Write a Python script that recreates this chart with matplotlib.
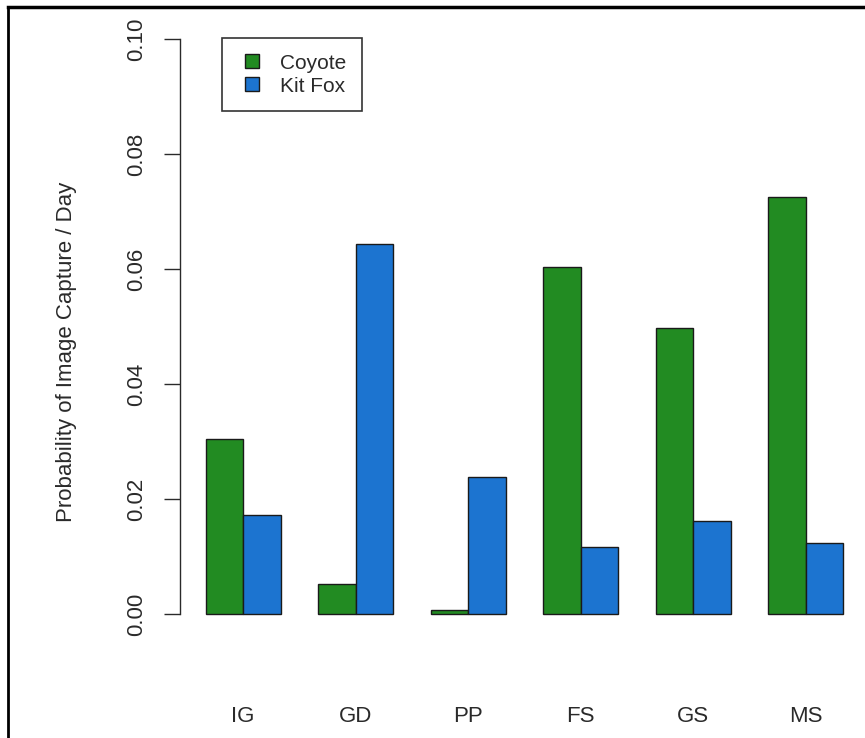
import matplotlib
matplotlib.use("Agg")
import matplotlib.pyplot as plt
from matplotlib.lines import Line2D
import numpy as np

plt.rcParams['font.family'] = ['Liberation Sans', 'DejaVu Sans']

# Data
sites = ["IG", "GD", "PP", "FS", "GS", "MS"]
coyote = [0.0304, 0.0052, 0.0007, 0.0603, 0.0498, 0.0725]
kit_fox = [0.0173, 0.0643, 0.0239, 0.0117, 0.0161, 0.0124]
y_ticks = [0.00, 0.02, 0.04, 0.06, 0.08, 0.10]
y_tick_labels = ["0.00", "0.02", "0.04", "0.06", "0.08", "0.10"]

green = "#228B22"
blue = "#1C74D0"
txt = "#2a2a2a"

fig = plt.figure(figsize=(8.65, 7.38), dpi=100)
# R-style plot region (runs a little past the right edge, the original is cropped)
ax = fig.add_axes([180 / 865, 101 / 738, 689 / 865, 621 / 738])

# R barplot(beside=TRUE) positions: groups of 2 bars + 1 gap
n = len(sites)
left = 1 + 3 * np.arange(n)
ax.bar(left, coyote, width=1, align="edge", color=green, edgecolor="#1a1a1a", linewidth=1.0)
ax.bar(left + 1, kit_fox, width=1, align="edge", color=blue, edgecolor="#1a1a1a", linewidth=1.0)

ax.set_xlim(0.32, 18.68)
ax.set_ylim(-0.004, 0.104)

for s in ["top", "right", "bottom"]:
    ax.spines[s].set_visible(False)
ax.spines["left"].set_bounds(0, 0.1)
ax.spines["left"].set_color(txt)
ax.spines["left"].set_linewidth(1.0)

ax.set_yticks(y_ticks)
ax.set_yticklabels(y_tick_labels, rotation=90, va="center", fontsize=16, color=txt)
ax.tick_params(axis="y", length=11.5, width=1.0, color=txt, pad=12)

ax.set_xticks(left + 1)
ax.set_xticklabels(sites, fontsize=16, color=txt)
ax.tick_params(axis="x", length=0, pad=50)

fig.text(67 / 865, 1 - 352 / 738, "Probability of Image Capture / Day",
         rotation=90, ha="center", va="center", fontsize=16, color=txt)

handles = [
    Line2D([], [], linestyle="none", marker="s", markersize=10, markerfacecolor=green,
           markeredgecolor="#1a1a1a", markeredgewidth=1.0),
    Line2D([], [], linestyle="none", marker="s", markersize=10, markerfacecolor=blue,
           markeredgecolor="#1a1a1a", markeredgewidth=1.0),
]
leg = ax.legend(handles, ["Coyote", "Kit Fox"], loc="upper left",
                bbox_to_anchor=(222 / 865, 1 - 38 / 738), bbox_transform=fig.transFigure,
                borderaxespad=0, fancybox=False, framealpha=1, edgecolor="#333333",
                fontsize=15, handlelength=1.4, handletextpad=0.65, borderpad=0.75,
                labelspacing=0.2)
leg.get_frame().set_linewidth(1.2)
for t in leg.get_texts():
    t.set_color(txt)

# outer frame (left and top edges of the cropped screenshot)
fig.add_artist(Line2D([8 / 865, 8 / 865], [0, 1 - 7 / 738], transform=fig.transFigure,
                      color="black", linewidth=2.0))
fig.add_artist(Line2D([8 / 865, 1], [1 - 7 / 738, 1 - 7 / 738], transform=fig.transFigure,
                      color="black", linewidth=2.5))

plt.savefig("out.png", dpi=100)
